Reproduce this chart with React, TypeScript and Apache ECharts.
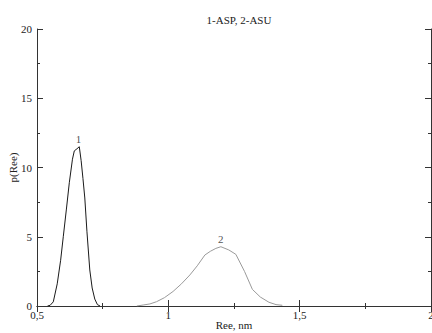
import React, { useEffect, useRef } from "react";
import * as echarts from "echarts";

const titleText = "1-ASP, 2-ASU";
const xAxisName = "Ree, nm";
const yAxisName = "p(Ree)";

const curve1X = [0.54, 0.55, 0.562, 0.577, 0.59, 0.6, 0.612, 0.623, 0.635, 0.642, 0.652, 0.661, 0.668, 0.675, 0.682, 0.69, 0.701, 0.71, 0.72, 0.73, 0.74];
const curve1Y = [0, 0.05, 0.3, 1.6, 3.3, 5.0, 7.0, 8.9, 10.6, 11.2, 11.35, 11.5, 10.5, 9.2, 7.8, 5.4, 2.6, 1.3, 0.5, 0.1, 0];

const curve2X = [0.88, 0.904, 0.93, 0.955, 0.985, 1.018, 1.05, 1.082, 1.11, 1.139, 1.16, 1.181, 1.2, 1.23, 1.257, 1.29, 1.32, 1.35, 1.383, 1.41, 1.434];
const curve2Y = [0, 0.07, 0.15, 0.31, 0.6, 1.05, 1.6, 2.24, 2.9, 3.68, 3.95, 4.16, 4.28, 4.05, 3.73, 2.5, 1.2, 0.65, 0.27, 0.1, 0.05];

const peakLabels = ["1", "2"];
const peakX = [0.658, 1.2];
const peakY = [11.5, 4.28];

const FONT = "Liberation Serif, Times New Roman, serif";

export default function App() {
  const ref = useRef<HTMLDivElement>(null);
  useEffect(() => {
    if (!ref.current) return;
    const chart = echarts.init(ref.current, undefined, { renderer: "svg" });
    const fmt = (v: number) => String(v).replace(".", ",");
    const axisLine = { show: true, lineStyle: { color: "#333", width: 1 } };
    const tick = { show: true, inside: true, length: 6, lineStyle: { color: "#333" } };
    const minorTick = { show: true, splitNumber: 2, length: 3, lineStyle: { color: "#333" } };
    chart.setOption({
      animation: false,
      backgroundColor: "#fff",
      title: {
        text: titleText,
        left: 234,
        textAlign: "center",
        top: 9,
        textStyle: { fontFamily: FONT, fontSize: 11, fontWeight: "normal", color: "#222" },
      },
      grid: { left: 37, right: 1, top: 29, bottom: 27, outerBoundsMode: "none", containLabel: false },
      xAxis: [
        {
          type: "value",
          min: 0.5,
          max: 2,
          interval: 0.5,
          name: xAxisName,
          nameLocation: "middle",
          nameGap: 13,
          nameMoveOverlap: false,
          nameTextStyle: { fontFamily: FONT, fontSize: 11, color: "#222", verticalAlign: "top" },
          axisLine,
          axisTick: tick,
          minorTick: { ...minorTick },
          splitLine: { show: false },
          axisLabel: { formatter: fmt, fontFamily: FONT, fontSize: 11, color: "#222", margin: 3, showMaxLabel: true, showMinLabel: true, alignMaxLabel: "center" },
        },
        {
          type: "value",
          position: "top",
          min: 0.5,
          max: 2,
          interval: 0.5,
          axisLine,
          axisTick: tick,
          minorTick: { ...minorTick },
          splitLine: { show: false },
          axisLabel: { show: false },
        },
      ],
      yAxis: [
        {
          type: "value",
          min: 0,
          max: 20,
          interval: 5,
          name: yAxisName,
          nameLocation: "middle",
          nameGap: 19,
          nameMoveOverlap: false,
          nameTextStyle: { fontFamily: FONT, fontSize: 11, color: "#222" },
          axisLine,
          axisTick: tick,
          minorTick: { ...minorTick },
          splitLine: { show: false },
          axisLabel: { fontFamily: FONT, fontSize: 11, color: "#222", margin: 5 },
        },
        {
          type: "value",
          position: "right",
          min: 0,
          max: 20,
          interval: 5,
          axisLine,
          axisTick: tick,
          minorTick: { ...minorTick },
          splitLine: { show: false },
          axisLabel: { show: false },
        },
      ],
      series: [
        {
          type: "line",
          data: curve1X.map((x, i) => [x, curve1Y[i]]),
          symbol: "none",
          lineStyle: { color: "#1a1a1a", width: 1 },
        },
        {
          type: "line",
          data: curve2X.map((x, i) => [x, curve2Y[i]]),
          symbol: "none",
          lineStyle: { color: "#9a9a9a", width: 1 },
        },
        {
          type: "scatter",
          data: peakX.map((x, i) => ({ value: [x, peakY[i]], name: peakLabels[i] })),
          symbolSize: 0,
          itemStyle: { color: "#222" },
          label: {
            show: true,
            position: "top",
            distance: 2,
            formatter: (p: any) => p.name,
            fontFamily: FONT,
            fontSize: 11,
            color: "#222",
          },
        },
      ],
    });
    return () => chart.dispose();
  }, []);
  return <div ref={ref} style={{ position: "absolute", left: 0, top: 0, width: 432, height: 333 }} />;
}
